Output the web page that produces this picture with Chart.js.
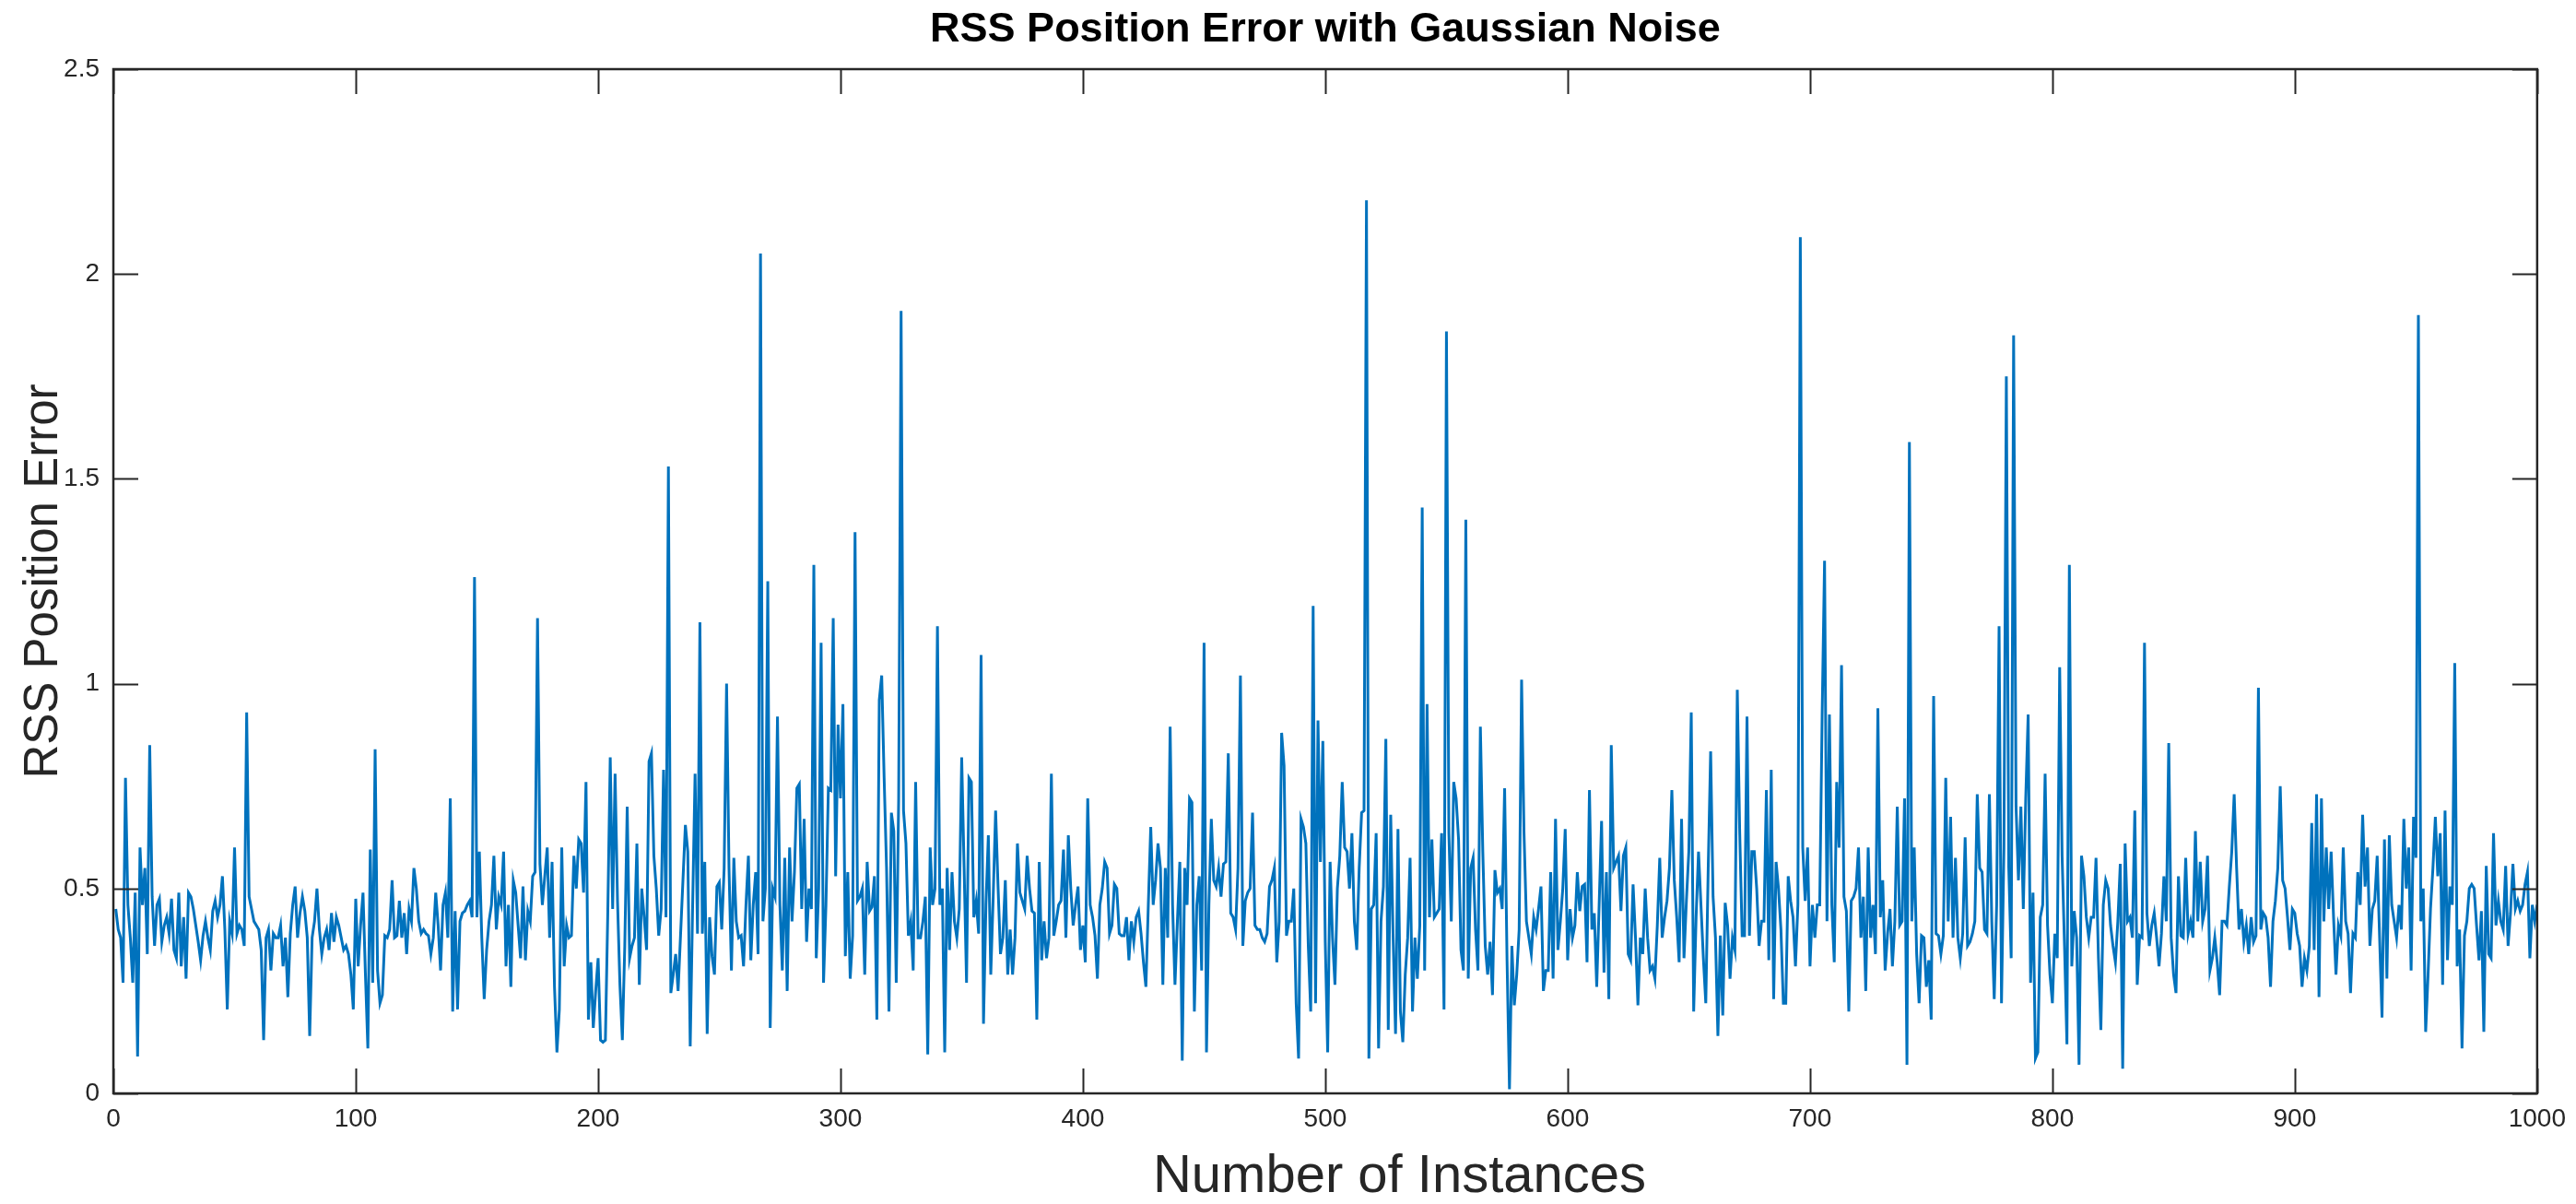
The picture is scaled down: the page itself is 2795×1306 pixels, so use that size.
<!DOCTYPE html>
<html>
<head>
<meta charset="utf-8">
<style>
  html, body { margin: 0; padding: 0; background: #ffffff; }
  #wrap { width: 2795px; height: 1306px; }
</style>
<script src="https://cdn.jsdelivr.net/npm/chart.js@4.4.1/dist/chart.umd.min.js"></script>
</head>
<body>
<div id="wrap"><canvas id="c" width="2795" height="1306"></canvas></div>
<script>
// ---- Data ----
const chartTitle = 'RSS Position Error with Gaussian Noise';
const xAxisTitle = 'Number of Instances';
const yAxisTitle = 'RSS Position Error';
const xTickLabels = ['0','100','200','300','400','500','600','700','800','900','1000'];
const yTickLabels = ['0','0.5','1','1.5','2','2.5'];

// RSS position error, instances 1-100
const err001 = [
0.45,0.40,0.38,0.27,0.77,0.46,0.38,0.27,0.49,0.09,
0.60,0.46,0.55,0.34,0.85,0.48,0.36,0.46,0.475,0.37,
0.41,0.43,0.39,0.475,0.35,0.33,0.49,0.31,0.43,0.28,
0.49,0.48,0.45,0.41,0.37,0.325,0.385,0.42,0.38,0.35,
0.445,0.47,0.43,0.46,0.53,0.40,0.205,0.42,0.39,0.60,
0.39,0.41,0.40,0.36,0.93,0.48,0.45,0.42,0.41,0.40,
0.35,0.13,0.38,0.40,0.30,0.39,0.38,0.38,0.41,0.31,
0.38,0.235,0.39,0.46,0.505,0.38,0.44,0.48,0.445,0.38,
0.14,0.38,0.42,0.50,0.40,0.34,0.38,0.40,0.35,0.44,
0.37,0.43,0.41,0.38,0.35,0.36,0.34,0.29,0.205,0.475];
// instances 101-200
const err101 = [
0.31,0.41,0.49,0.29,0.11,0.595,0.27,0.84,0.30,0.22,
0.24,0.385,0.38,0.40,0.52,0.38,0.385,0.47,0.38,0.44,
0.34,0.45,0.42,0.55,0.50,0.42,0.39,0.40,0.39,0.385,
0.34,0.38,0.49,0.41,0.30,0.46,0.49,0.38,0.72,0.20,
0.445,0.205,0.42,0.44,0.445,0.46,0.47,0.43,1.26,0.43,
0.59,0.38,0.23,0.35,0.42,0.46,0.58,0.40,0.48,0.46,
0.59,0.31,0.46,0.26,0.52,0.49,0.41,0.33,0.505,0.325,
0.445,0.42,0.53,0.54,1.16,0.56,0.46,0.53,0.60,0.38,
0.565,0.26,0.10,0.205,0.60,0.31,0.41,0.38,0.385,0.58,
0.50,0.62,0.61,0.49,0.76,0.18,0.32,0.16,0.25,0.33];
// instances 201-300
const err201 = [
0.13,0.125,0.13,0.445,0.82,0.45,0.78,0.47,0.265,0.13,
0.36,0.70,0.33,0.36,0.38,0.61,0.265,0.50,0.43,0.35,
0.81,0.83,0.58,0.50,0.385,0.45,0.79,0.43,1.53,0.245,
0.29,0.34,0.25,0.385,0.52,0.655,0.59,0.115,0.46,0.78,
0.39,1.15,0.39,0.565,0.145,0.43,0.335,0.29,0.505,0.515,
0.40,0.55,1.00,0.55,0.30,0.575,0.42,0.38,0.385,0.31,
0.46,0.58,0.325,0.46,0.54,0.34,2.05,0.42,0.50,1.25,
0.16,0.50,0.48,0.92,0.46,0.30,0.575,0.25,0.60,0.42,
0.54,0.745,0.755,0.45,0.67,0.37,0.50,0.45,1.29,0.33,
0.50,1.10,0.27,0.46,0.745,0.74,1.16,0.53,0.90,0.72];
// instances 301-400
const err301 = [
0.95,0.335,0.54,0.28,0.385,1.37,0.47,0.48,0.50,0.29,
0.565,0.445,0.455,0.53,0.18,0.96,1.02,0.77,0.55,0.20,
0.685,0.64,0.27,0.72,1.91,0.69,0.61,0.385,0.42,0.30,
0.76,0.38,0.38,0.42,0.48,0.095,0.60,0.46,0.50,1.14,
0.46,0.50,0.10,0.55,0.35,0.54,0.42,0.38,0.45,0.82,
0.55,0.27,0.77,0.76,0.43,0.47,0.39,1.07,0.17,0.46,
0.63,0.29,0.48,0.69,0.505,0.34,0.38,0.52,0.29,0.40,
0.29,0.38,0.61,0.49,0.47,0.45,0.58,0.50,0.445,0.44,
0.18,0.565,0.325,0.42,0.33,0.38,0.78,0.385,0.42,0.46,
0.47,0.595,0.38,0.63,0.50,0.41,0.46,0.505,0.35,0.41];
// instances 401-500
const err401 = [
0.32,0.72,0.46,0.43,0.385,0.28,0.46,0.50,0.565,0.55,
0.39,0.41,0.51,0.50,0.39,0.385,0.385,0.43,0.325,0.42,
0.37,0.43,0.445,0.39,0.32,0.26,0.46,0.65,0.46,0.52,
0.61,0.55,0.265,0.55,0.38,0.895,0.46,0.265,0.42,0.565,
0.08,0.55,0.46,0.72,0.71,0.20,0.46,0.53,0.30,1.10,
0.10,0.46,0.67,0.52,0.505,0.55,0.48,0.56,0.565,0.83,
0.44,0.43,0.40,0.55,1.02,0.36,0.47,0.49,0.50,0.685,
0.41,0.40,0.40,0.38,0.37,0.39,0.505,0.52,0.55,0.32,
0.42,0.88,0.80,0.385,0.42,0.42,0.50,0.22,0.085,0.67,
0.65,0.61,0.36,0.20,1.19,0.22,0.91,0.565,0.86,0.37];
// instances 501-600
const err501 = [
0.10,0.565,0.38,0.265,0.50,0.58,0.76,0.60,0.59,0.50,
0.635,0.42,0.35,0.55,0.685,0.69,2.18,0.085,0.45,0.46,
0.635,0.11,0.42,0.505,0.865,0.155,0.68,0.38,0.145,0.645,
0.20,0.125,0.29,0.38,0.575,0.20,0.38,0.28,0.41,1.43,
0.30,0.95,0.43,0.62,0.43,0.44,0.45,0.635,0.205,1.86,
0.635,0.42,0.76,0.72,0.62,0.35,0.30,1.40,0.28,0.55,
0.575,0.40,0.30,0.895,0.59,0.36,0.29,0.37,0.24,0.545,
0.49,0.50,0.45,0.745,0.325,0.01,0.36,0.215,0.29,0.40,
1.01,0.635,0.42,0.38,0.34,0.43,0.40,0.45,0.505,0.25,
0.30,0.30,0.54,0.28,0.67,0.35,0.42,0.50,0.645,0.325];
// instances 601-700
const err601 = [
0.45,0.38,0.41,0.54,0.445,0.505,0.51,0.32,0.74,0.40,
0.44,0.26,0.46,0.665,0.295,0.54,0.23,0.85,0.55,0.565,
0.58,0.445,0.58,0.60,0.34,0.325,0.51,0.38,0.215,0.38,
0.34,0.50,0.38,0.30,0.31,0.28,0.41,0.575,0.38,0.43,
0.47,0.55,0.74,0.52,0.43,0.32,0.67,0.33,0.47,0.59,
0.93,0.20,0.43,0.59,0.46,0.33,0.22,0.55,0.835,0.48,
0.38,0.14,0.385,0.19,0.465,0.41,0.28,0.38,0.35,0.985,
0.635,0.385,0.385,0.92,0.385,0.59,0.59,0.50,0.36,0.42,
0.42,0.74,0.325,0.79,0.23,0.565,0.50,0.40,0.22,0.22,
0.53,0.47,0.43,0.31,0.46,2.09,0.60,0.47,0.60,0.31];
// instances 701-800
const err701 = [
0.46,0.38,0.46,0.46,0.92,1.30,0.42,0.925,0.46,0.32,
0.76,0.60,1.045,0.48,0.445,0.20,0.47,0.48,0.50,0.60,
0.38,0.48,0.25,0.60,0.38,0.46,0.34,0.94,0.43,0.52,
0.30,0.39,0.45,0.31,0.42,0.70,0.41,0.42,0.72,0.07,
1.59,0.42,0.60,0.34,0.22,0.385,0.38,0.26,0.325,0.18,
0.97,0.39,0.385,0.34,0.385,0.77,0.42,0.675,0.38,0.575,
0.38,0.33,0.39,0.625,0.36,0.37,0.39,0.42,0.73,0.55,
0.54,0.40,0.39,0.73,0.42,0.23,0.46,1.14,0.22,0.60,
1.75,0.55,0.33,1.85,0.70,0.52,0.70,0.45,0.72,0.925,
0.27,0.49,0.085,0.10,0.43,0.46,0.78,0.41,0.29,0.22];
// instances 801-900
const err801 = [
0.39,0.33,1.04,0.58,0.36,0.12,1.29,0.31,0.445,0.38,
0.07,0.58,0.53,0.43,0.38,0.43,0.43,0.575,0.33,0.155,
0.46,0.52,0.50,0.41,0.36,0.32,0.42,0.56,0.06,0.61,
0.42,0.43,0.38,0.69,0.265,0.385,0.38,1.10,0.44,0.36,
0.41,0.44,0.38,0.31,0.39,0.53,0.42,0.855,0.38,0.29,
0.245,0.53,0.385,0.38,0.575,0.39,0.42,0.38,0.64,0.42,
0.565,0.42,0.45,0.58,0.30,0.33,0.38,0.32,0.24,0.42,
0.42,0.41,0.505,0.59,0.73,0.55,0.40,0.45,0.37,0.41,
0.34,0.43,0.37,0.385,0.99,0.40,0.44,0.43,0.38,0.26,
0.42,0.47,0.55,0.75,0.52,0.50,0.43,0.35,0.45,0.44];
// instances 901-1000
const err901 = [
0.39,0.36,0.26,0.33,0.30,0.36,0.66,0.35,0.73,0.235,
0.72,0.42,0.60,0.45,0.59,0.43,0.29,0.41,0.385,0.60,
0.42,0.39,0.245,0.39,0.38,0.54,0.46,0.68,0.505,0.60,
0.36,0.45,0.47,0.58,0.38,0.185,0.62,0.28,0.63,0.46,
0.42,0.38,0.46,0.40,0.67,0.50,0.60,0.30,0.675,0.575,
1.90,0.42,0.50,0.15,0.29,0.45,0.55,0.675,0.53,0.635,
0.265,0.69,0.325,0.505,0.46,1.05,0.31,0.40,0.11,0.385,
0.42,0.50,0.51,0.50,0.41,0.325,0.445,0.15,0.555,0.34,
0.33,0.635,0.41,0.47,0.42,0.40,0.555,0.36,0.44,0.56,
0.45,0.47,0.445,0.46,0.51,0.54,0.33,0.46,0.42,0.46];

// ---- Build the chart ----
const rssError = [].concat(err001, err101, err201, err301, err401, err501, err601, err701, err801, err901);
const points = rssError.map((v, k) => ({ x: k + 1, y: v }));

const AXIS_COLOR = '#262626';
const SANS = "'Liberation Sans', Arial, Helvetica, sans-serif";
// the x-axis label sits a little right of the axis centre in the reference
const X_TITLE_LEAD = '          ';

const framePlugin = {
  id: 'matlabFrame',
  afterDraw(chart) {
    const { ctx, chartArea: a, scales } = chart;
    const xs = scales.x, ys = scales.y;
    const L = 27;
    ctx.save();
    ctx.strokeStyle = AXIS_COLOR;
    ctx.lineWidth = 2;
    ctx.beginPath();
    xs.ticks.forEach(t => {
      const px = Math.round(xs.getPixelForValue(t.value)) + 0.5;
      ctx.moveTo(px, a.bottom); ctx.lineTo(px, a.bottom - L);
      ctx.moveTo(px, a.top); ctx.lineTo(px, a.top + L);
    });
    ys.ticks.forEach(t => {
      const py = Math.round(ys.getPixelForValue(t.value)) + 0.5;
      ctx.moveTo(a.left, py); ctx.lineTo(a.left + L, py);
      ctx.moveTo(a.right, py); ctx.lineTo(a.right - L, py);
    });
    ctx.stroke();
    ctx.lineWidth = 2.5;
    ctx.strokeRect(a.left, a.top, a.right - a.left, a.bottom - a.top);
    ctx.restore();
  }
};

new Chart(document.getElementById('c'), {
  type: 'line',
  data: {
    datasets: [{
      label: yAxisTitle,
      data: points,
      borderColor: '#0072BD',
      borderWidth: 3,
      pointRadius: 0,
      tension: 0,
      fill: false
    }]
  },
  options: {
    responsive: false,
    animation: false,
    devicePixelRatio: 1,
    layout: { padding: { left: 0, right: 39, top: 0, bottom: 0 } },
    plugins: {
      legend: { display: false },
      tooltip: { enabled: false },
      title: {
        display: true,
        text: chartTitle,
        fullSize: false,
        color: '#000000',
        font: { family: SANS, size: 45, weight: 'bold', lineHeight: 1 },
        padding: { top: 10, bottom: 20 }
      }
    },
    scales: {
      x: {
        type: 'linear',
        min: 0, max: 1000,
        afterBuildTicks(scale) {
          scale.ticks = xTickLabels.map(s => ({ value: Number(s) }));
        },
        afterFit(scale) { scale.height = 120; },
        ticks: {
          autoSkip: false, maxRotation: 0, minRotation: 0,
          padding: 11,
          color: AXIS_COLOR,
          font: { family: SANS, size: 28, lineHeight: 1.2 },
          callback: (v, i) => xTickLabels[i]
        },
        grid: { display: false, drawTicks: false },
        border: { display: false },
        title: {
          display: true,
          text: X_TITLE_LEAD + xAxisTitle,
          color: AXIS_COLOR,
          font: { family: SANS, size: 58, lineHeight: 1 },
          padding: { top: 6, bottom: 0 }
        }
      },
      y: {
        type: 'linear',
        min: 0, max: 2.5,
        afterBuildTicks(scale) {
          scale.ticks = yTickLabels.map(s => ({ value: Number(s) }));
        },
        afterFit(scale) { scale.width = 123; },
        ticks: {
          padding: 15,
          color: AXIS_COLOR,
          font: { family: SANS, size: 28, lineHeight: 1.2 },
          callback: (v, i) => yTickLabels[i]
        },
        grid: { display: false, drawTicks: false },
        border: { display: false },
        title: {
          display: true,
          text: yAxisTitle,
          color: AXIS_COLOR,
          font: { family: SANS, size: 51, lineHeight: 1 },
          padding: { top: 22, bottom: 0 }
        }
      }
    }
  },
  plugins: [framePlugin]
});
</script>
</body>
</html>
